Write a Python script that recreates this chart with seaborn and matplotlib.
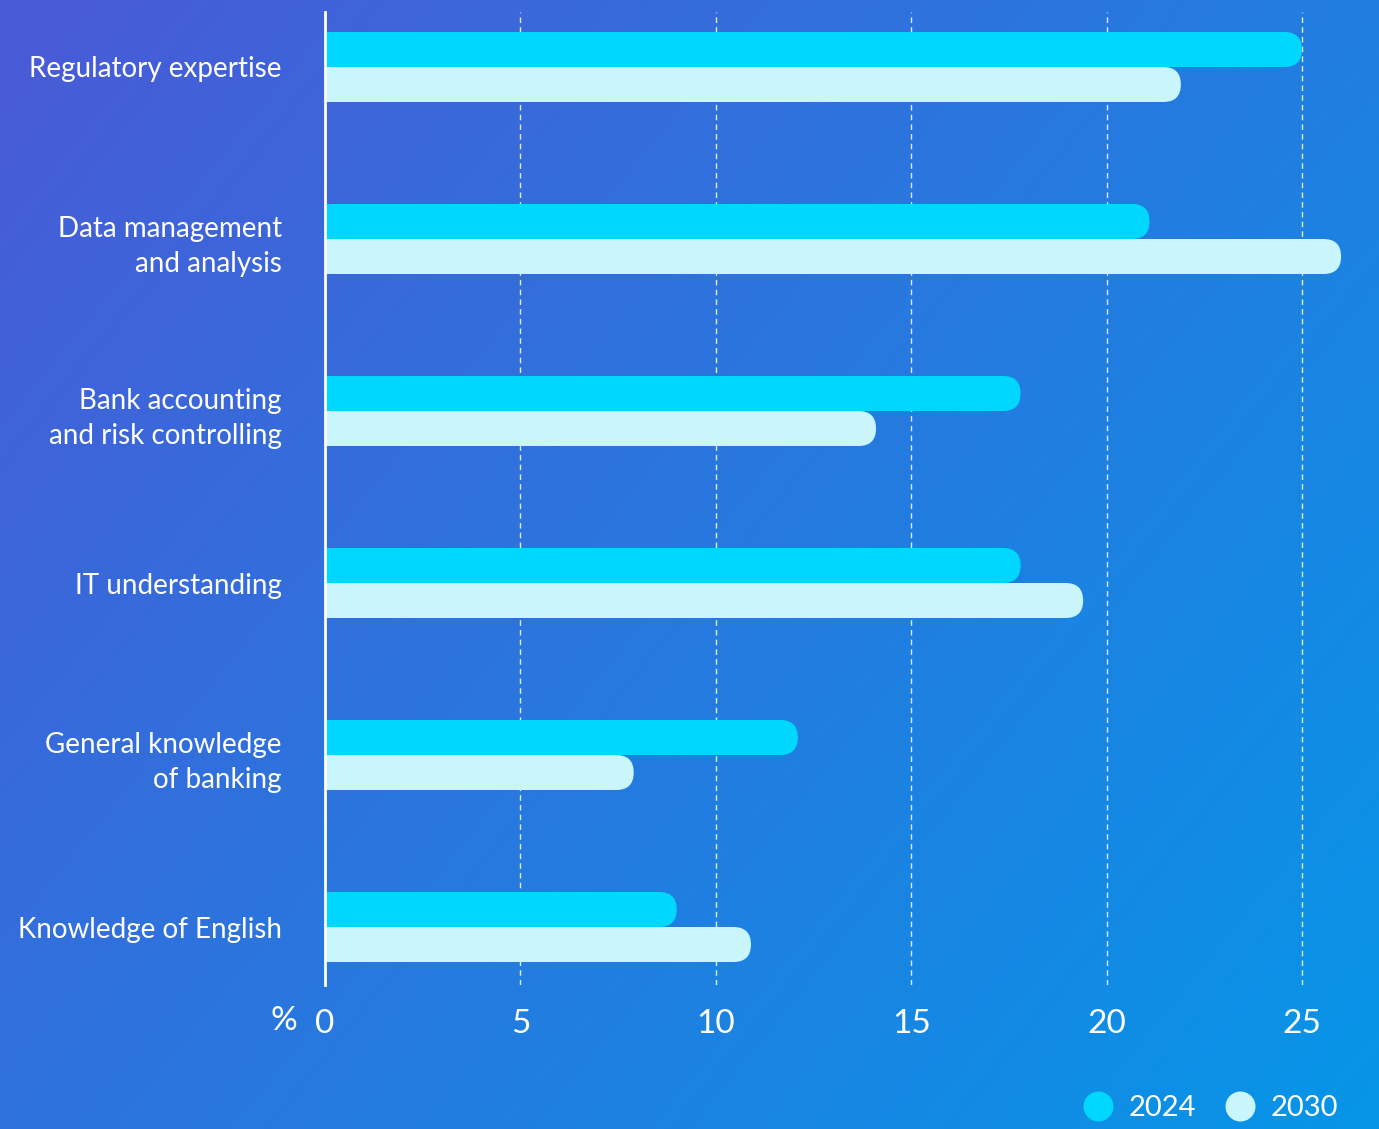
import numpy as np
import pandas as pd
import matplotlib
matplotlib.use("Agg")
import matplotlib.pyplot as plt
from matplotlib.patches import FancyBboxPatch
from matplotlib.lines import Line2D
import seaborn as sns

# ---- data ----
skills = ["Regulatory expertise", "Data management\nand analysis",
          "Bank accounting\nand risk controlling", "IT understanding",
          "General knowledge\nof banking", "Knowledge of English"]
years = ["2024", "2030"]
values_2024 = [25.0, 21.1, 17.8, 17.8, 12.1, 9.0]
values_2030 = [21.9, 26.0, 14.1, 19.4, 7.9, 10.9]
x_ticks = [0, 5, 10, 15, 20, 25]

colors = {"2024": "#00D7FF", "2030": "#C9F5FD"}

df = pd.DataFrame({
    "skill": skills * 2,
    "year": ["2024"] * len(skills) + ["2030"] * len(skills),
    "value": values_2024 + values_2030,
})

sns.set_theme(style="white")
plt.rcParams["font.family"] = ["Lato", "DejaVu Sans"]

W, H = 1379, 1129
fig = plt.figure(figsize=(W / 100, H / 100), dpi=100)

# gradient background
bg = fig.add_axes([0, 0, 1, 1], zorder=-10)
gx, gy = np.meshgrid(np.linspace(0, 1, 300), np.linspace(0, 1, 300))
t = (gx * 0.6 + gy * 0.4)
c0 = np.array([74, 90, 214]) / 255
c1 = np.array([6, 150, 232]) / 255
grad = c0[None, None, :] * (1 - t[..., None]) + c1[None, None, :] * t[..., None]
bg.imshow(grad, extent=[0, 1, 0, 1], aspect="auto", interpolation="bilinear", origin="upper")
bg.set_axis_off()

left_px, right_px, top_px, bot_px = 325, 1361, 12, 985
ax = fig.add_axes([left_px / W, 1 - bot_px / H, (right_px - left_px) / W, (bot_px - top_px) / H], zorder=1)
ax.set_facecolor("none")

sns.barplot(data=df, y="skill", x="value", hue="year", orient="h",
            palette=colors, hue_order=years, order=skills, width=0.407,
            legend=False, ax=ax, saturation=1, edgecolor="none", linewidth=0)

xmax = (right_px - left_px) / ((1302 - 325) / 25)
ax.set_xlim(0, xmax)
ax.set_ylim(5 + 58 / 172, -55 / 172)

# rounded right ends
fig.canvas.draw()
bbox = ax.get_window_extent()
x_ppu = bbox.width / xmax
y_ppu = bbox.height / abs(ax.get_ylim()[0] - ax.get_ylim()[1])
rects = list(ax.patches)
for r in rects:
    x0, y0, w, h = r.get_x(), r.get_y(), r.get_width(), r.get_height()
    h_px = abs(h) * y_ppu
    rx = (h_px / 2) / x_ppu
    aspect = x_ppu / y_ppu
    p = FancyBboxPatch((x0 - rx, min(y0, y0 + h)), w + rx, abs(h),
                       boxstyle=f"round,pad=0,rounding_size={rx}",
                       mutation_aspect=aspect, facecolor=r.get_facecolor(),
                       edgecolor="none", linewidth=0, zorder=3)
    r.remove()
    ax.add_patch(p)

# axes styling
for s in ["top", "right", "bottom"]:
    ax.spines[s].set_visible(False)
ax.spines["left"].set_color("white")
ax.spines["left"].set_linewidth(2)
ax.spines["left"].set_zorder(5)
ax.set_xticks(x_ticks)
ax.xaxis.grid(True, color="white", linestyle=(0, (4, 3)), linewidth=1, alpha=0.85)
ax.set_axisbelow(True)
ax.tick_params(axis="x", length=0, pad=17, labelsize=24, labelcolor="white")
ax.tick_params(axis="y", length=0, pad=31, labelsize=20, labelcolor="white")
ax.set_xlabel("")
ax.set_ylabel("")
for lab in ax.get_yticklabels():
    lab.set_horizontalalignment("right")
    lab.set_multialignment("right")
    lab.set_linespacing(1.45)

fig.text(284 / W, 1 - 1021 / H, "%", ha="center", va="center", color="white", fontsize=24)

handles = [Line2D([], [], marker="o", linestyle="none", markersize=21.6,
                  markerfacecolor=colors[y], markeredgecolor="none") for y in years]
fig.legend(handles, years, loc="center right", bbox_to_anchor=(1338 / W, 1 - 1108 / H),
           ncol=2, frameon=False, fontsize=21, labelcolor="white",
           handlelength=1.0, handletextpad=0.55, columnspacing=1.0, borderpad=0, borderaxespad=0)

fig.savefig("out.png", dpi=100)
